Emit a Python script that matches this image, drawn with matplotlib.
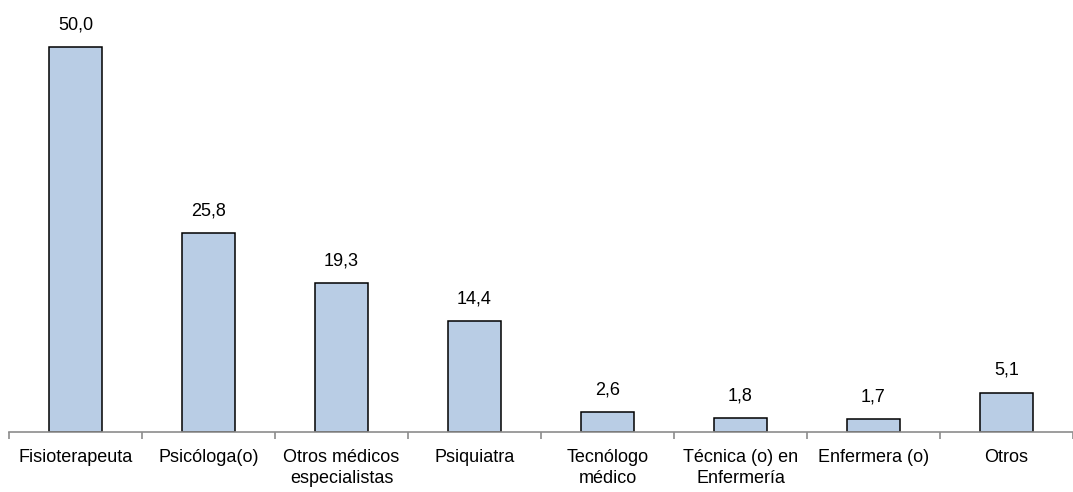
import matplotlib
matplotlib.use("Agg")
import matplotlib.pyplot as plt

plt.rcParams['font.family'] = ['Liberation Sans', 'DejaVu Sans']

categories = ["Fisioterapeuta", "Psicóloga(o)", "Otros médicos\nespecialistas", "Psiquiatra",
              "Tecnólogo\nmédico", "Técnica (o) en\nEnfermería", "Enfermera (o)", "Otros"]
values = [50.0, 25.8, 19.3, 14.4, 2.6, 1.8, 1.7, 5.1]
value_labels = ["50,0", "25,8", "19,3", "14,4", "2,6", "1,8", "1,7", "5,1"]

W, H = 1073, 492
fig = plt.figure(figsize=(W / 100, H / 100), dpi=100)
ax = fig.add_axes([9 / W, (H - 432) / H, (W - 9) / W, 432 / H])

x = range(len(categories))
bars = ax.bar(x, values, width=0.4, color="#B9CDE5", edgecolor="black", linewidth=1.1, zorder=2)

for b, lab in zip(bars, value_labels):
    ax.annotate(lab, (b.get_x() + b.get_width() / 2, b.get_height()),
                xytext=(0, 10), textcoords="offset points", ha="center", va="bottom", fontsize=13)

ax.set_xlim(-0.5, -0.5 + (W - 9) / 134)
ax.set_ylim(0, 432 / 7.7)

for s in ["top", "right", "left"]:
    ax.spines[s].set_visible(False)
ax.spines["bottom"].set_color("#8c8c8c")
ax.spines["bottom"].set_linewidth(1.2)
ax.set_yticks([])

ax.set_xticks([i + 0.5 for i in range(-1, len(categories))], minor=False)
ax.set_xticklabels([])
ax.tick_params(axis="x", which="major", length=5, color="#8c8c8c", width=1.2)
ax.set_xticks(list(x), minor=True)
ax.set_xticklabels(categories, minor=True, fontsize=13, linespacing=1.3)
ax.tick_params(axis="x", which="minor", length=0, pad=12)

fig.savefig("out.png", dpi=100)
